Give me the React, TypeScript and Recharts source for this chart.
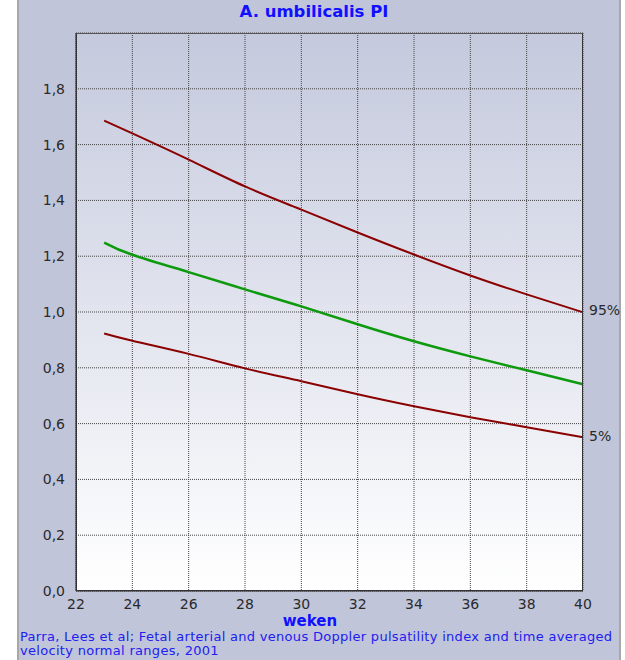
import { LineChart, Line, XAxis, YAxis, CartesianGrid } from 'recharts';

// gestational age (weeks) and PI percentiles
const weeks = [23, 24, 26, 28, 30, 32, 34, 36, 38, 40];
const p95 = [1.686, 1.64, 1.546, 1.45, 1.367, 1.285, 1.206, 1.131, 1.063, 0.999];
const p50 = [1.249, 1.205, 1.143, 1.081, 1.02, 0.956, 0.895, 0.841, 0.791, 0.741];
const p5 = [0.923, 0.897, 0.85, 0.798, 0.752, 0.705, 0.662, 0.623, 0.587, 0.551];

const xTicks = [22, 24, 26, 28, 30, 32, 34, 36, 38, 40];
const yTicks = [0, 0.2, 0.4, 0.6, 0.8, 1.0, 1.2, 1.4, 1.6, 1.8];

const data = weeks.map((w, i) => ({ week: w, p95: p95[i], p50: p50[i], p5: p5[i] }));

const BLUE = '#1010ff';
const DARKRED = '#8b0000';
const GREEN = '#0d9a0d';

// plot rectangle in page pixels
const PL = 76, PT = 33, PR = 583, PB = 591;

const tickStyle = { fontFamily: 'DejaVu Sans', fontSize: 14, fill: '#2a2a2a' };
const footStyle = {
  position: 'absolute' as const, left: 20, fontFamily: 'DejaVu Sans', fontSize: 13, lineHeight: '14px',
  letterSpacing: 0.3, color: '#2020f0', whiteSpace: 'nowrap' as const,
};

export default function App() {
  return (
    <div style={{ position: 'absolute', left: 0, top: 0, width: 625, height: 660, background: '#fff', overflow: 'hidden' }}>
      <div style={{ position: 'absolute', left: 17, top: 0, width: 604, height: 660, background: '#c0c5da', borderLeft: '2px solid #a8a8a8', borderRight: '2px solid #a8a8a8', boxSizing: 'border-box' }} />
      <div style={{ position: 'absolute', left: PL, top: PT, width: PR - PL, height: PB - PT, background: 'linear-gradient(#c4c9dd, #ffffff)' }} />
      <div style={{ position: 'absolute', left: 0, top: 2, width: 628, textAlign: 'center', fontFamily: 'DejaVu Sans', fontWeight: 'bold', fontSize: 16.5, color: BLUE }}>
        A. umbilicalis PI
      </div>
      <div style={{ position: 'absolute', left: 0, top: 0 }}>
        <LineChart width={625} height={660} data={data} margin={{ top: PT, left: PL - 60, right: 625 - PR, bottom: 660 - PB - 24 }}>
          <CartesianGrid stroke="#444" strokeDasharray="1 1" />
          <XAxis dataKey="week" type="number" domain={[22, 40]} ticks={xTicks} height={24} tickLine={false} tickMargin={2}
            axisLine={{ stroke: '#333' }} tick={tickStyle} interval={0} />
          <YAxis type="number" domain={[0, 2]} ticks={yTicks} width={60} tickLine={false} tickMargin={5}
            axisLine={{ stroke: '#333' }} tick={tickStyle} interval={0}
            tickFormatter={(v: number) => v.toFixed(1).replace('.', ',')} />
          <Line dataKey="p95" type="natural" stroke={DARKRED} strokeWidth={2} dot={false} isAnimationActive={false} />
          <Line dataKey="p50" type="natural" stroke={GREEN} strokeWidth={2.5} dot={false} isAnimationActive={false} />
          <Line dataKey="p5" type="natural" stroke={DARKRED} strokeWidth={2} dot={false} isAnimationActive={false} />
        </LineChart>
      </div>
      <div style={{ position: 'absolute', left: PL, top: PT, width: PR - PL, height: PB - PT, border: '1.5px solid #333', borderTopColor: '#555', boxSizing: 'border-box', pointerEvents: 'none' }} />
      <div style={{ position: 'absolute', left: 589, top: 302, fontFamily: 'DejaVu Sans', fontSize: 14, color: '#2a2a2a' }}>95%</div>
      <div style={{ position: 'absolute', left: 589, top: 428, fontFamily: 'DejaVu Sans', fontSize: 14, color: '#2a2a2a' }}>5%</div>
      <div style={{ position: 'absolute', left: 0, top: 614, width: 620, textAlign: 'center', fontFamily: 'DejaVu Sans', fontWeight: 'bold', fontSize: 15, lineHeight: '15px', color: BLUE }}>
        weken
      </div>
      <div style={{ ...footStyle, top: 630 }}>
        Parra, Lees et al; Fetal arterial and venous Doppler pulsatility index and time averaged
      </div>
      <div style={{ ...footStyle, top: 644 }}>
        velocity normal ranges, 2001
      </div>
    </div>
  );
}
